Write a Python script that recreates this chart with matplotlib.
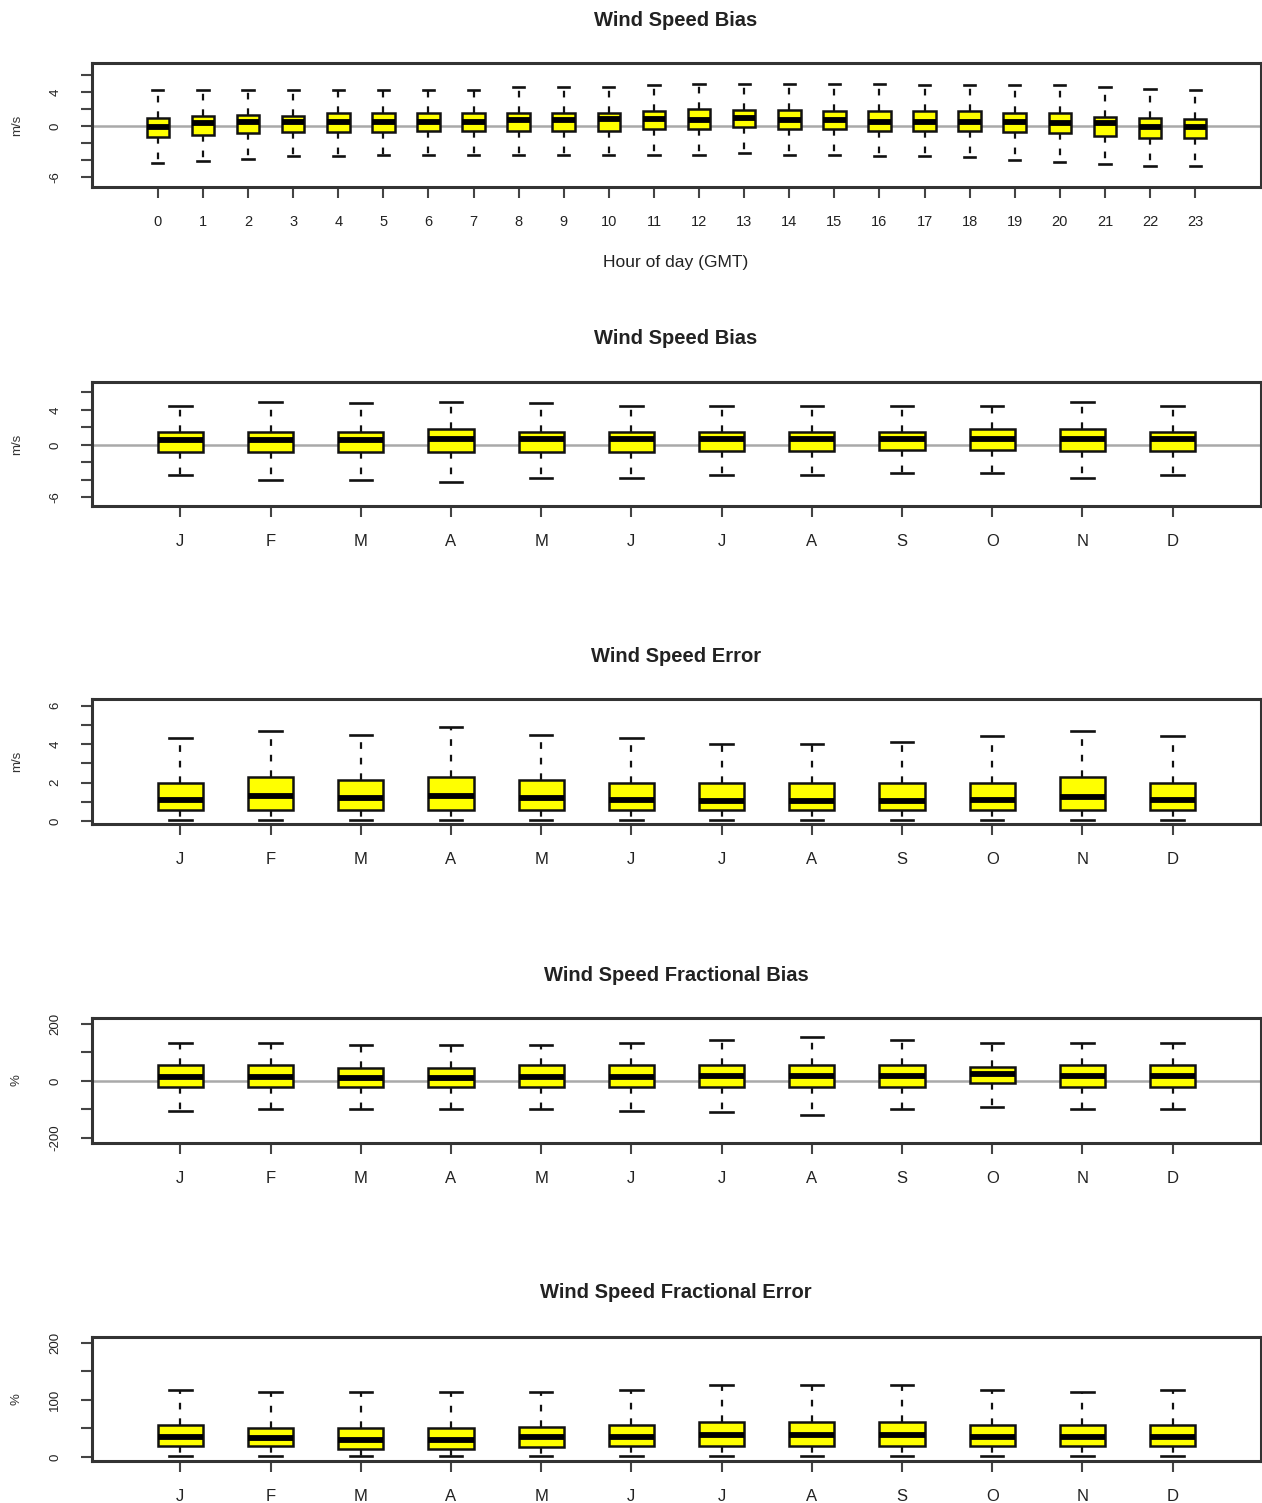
import matplotlib
matplotlib.use('Agg')
import matplotlib.pyplot as plt

plt.rcParams['font.family'] = ['Liberation Sans', 'DejaVu Sans']

# ---------------- data ----------------
hours = [str(h) for h in range(24)]
months = ['J', 'F', 'M', 'A', 'M', 'J', 'J', 'A', 'S', 'O', 'N', 'D']

# Panel 1: wind speed bias by hour (m/s)
p1_lo  = [-4.4, -4.1, -3.9, -3.6, -3.6, -3.4, -3.4, -3.4, -3.4, -3.4, -3.4, -3.4,
          -3.4, -3.2, -3.4, -3.4, -3.6, -3.6, -3.7, -4.0, -4.2, -4.5, -4.7, -4.7]
p1_q1  = [-1.3, -1.1, -0.8, -0.7, -0.7, -0.7, -0.6, -0.6, -0.6, -0.6, -0.6, -0.4,
          -0.4, -0.1, -0.4, -0.4, -0.6, -0.6, -0.6, -0.7, -0.8, -1.2, -1.4, -1.4]
p1_med = [-0.1, 0.3, 0.4, 0.5, 0.5, 0.5, 0.5, 0.5, 0.7, 0.7, 0.8, 0.8,
          0.7, 0.9, 0.7, 0.7, 0.5, 0.5, 0.5, 0.5, 0.3, 0.3, -0.1, -0.1]
p1_q3  = [0.9, 1.2, 1.3, 1.2, 1.5, 1.5, 1.5, 1.5, 1.5, 1.5, 1.5, 1.7,
          2.0, 1.9, 1.9, 1.7, 1.7, 1.7, 1.7, 1.5, 1.5, 1.1, 0.9, 0.8]
p1_hi  = [4.2, 4.2, 4.2, 4.2, 4.2, 4.2, 4.2, 4.2, 4.6, 4.6, 4.6, 4.8,
          4.9, 4.9, 4.9, 4.9, 4.9, 4.8, 4.8, 4.8, 4.8, 4.6, 4.3, 4.2]

# Panel 2: wind speed bias by month (m/s)
p2_lo  = [-3.5, -4.0, -4.0, -4.3, -3.8, -3.8, -3.5, -3.5, -3.2, -3.2, -3.8, -3.5]
p2_q1  = [-0.8, -0.8, -0.8, -0.8, -0.8, -0.8, -0.7, -0.7, -0.6, -0.6, -0.7, -0.7]
p2_med = [0.6, 0.6, 0.6, 0.7, 0.7, 0.7, 0.7, 0.7, 0.7, 0.7, 0.7, 0.7]
p2_q3  = [1.5, 1.5, 1.5, 1.8, 1.5, 1.5, 1.5, 1.5, 1.5, 1.8, 1.8, 1.5]
p2_hi  = [4.5, 4.9, 4.8, 4.9, 4.8, 4.5, 4.5, 4.5, 4.5, 4.5, 4.9, 4.5]

# Panel 3: wind speed error by month (m/s)
p3_lo  = [0.05] * 12
p3_q1  = [0.55, 0.55, 0.55, 0.55, 0.55, 0.55, 0.55, 0.55, 0.55, 0.55, 0.55, 0.55]
p3_med = [1.1, 1.3, 1.2, 1.3, 1.2, 1.1, 1.05, 1.05, 1.05, 1.1, 1.25, 1.1]
p3_q3  = [2.0, 2.3, 2.15, 2.3, 2.15, 2.0, 2.0, 2.0, 2.0, 2.0, 2.3, 2.0]
p3_hi  = [4.3, 4.7, 4.5, 4.9, 4.5, 4.3, 4.0, 4.0, 4.1, 4.4, 4.7, 4.4]

# Panel 4: fractional bias by month (%)
p4_lo  = [-105, -100, -100, -100, -100, -105, -108, -120, -100, -92, -100, -100]
p4_q1  = [-20, -20, -20, -20, -20, -20, -20, -20, -20, -8, -20, -20]
p4_med = [15, 15, 12, 12, 15, 15, 18, 18, 18, 25, 18, 18]
p4_q3  = [56, 56, 45, 45, 56, 56, 56, 56, 56, 50, 56, 56]
p4_hi  = [133, 133, 126, 126, 126, 133, 144, 154, 144, 133, 133, 133]

# Panel 5: fractional error by month (%)
p5_lo  = [2] * 12
p5_q1  = [19, 19, 14, 14, 18, 19, 19, 19, 19, 19, 19, 19]
p5_med = [35, 33, 30, 30, 35, 35, 38, 38, 38, 35, 35, 35]
p5_q3  = [56, 51, 51, 51, 53, 56, 61, 61, 61, 56, 56, 56]
p5_hi  = [117, 114, 114, 114, 114, 117, 126, 126, 126, 117, 114, 117]

# ---------------- layout ----------------
W, H = 1262, 1503
fig = plt.figure(figsize=(W / 100, H / 100), dpi=100)

AX_L, AX_R = 92, 1261


def make_stats(lo, q1, med, q3, hi):
    return [dict(whislo=a, q1=b, med=c, q3=d, whishi=e, fliers=[])
            for a, b, c, d, e in zip(lo, q1, med, q3, hi)]


def panel(top, bottom, title, title_y, data, labels, ylim, yticks, ylabels,
          ylab, zero_line, xfs, xlabel=None):
    ax = fig.add_axes([AX_L / W, 1 - bottom / H, (AX_R - AX_L) / W, (bottom - top) / H])
    n = len(labels)
    pos = list(range(1, n + 1))
    if zero_line:
        ax.axhline(0, color='#a9a9a9', lw=1.8, zorder=0.5)
    ax.bxp(make_stats(*data), positions=pos, widths=0.5, capwidths=0.25,
           patch_artist=True, showfliers=False, manage_ticks=False,
           boxprops=dict(facecolor='#ffff00', edgecolor='#111111', linewidth=1.8),
           medianprops=dict(color='black', linewidth=4.2, solid_capstyle='butt'),
           whiskerprops=dict(color='#111111', linestyle=(0, (3, 4)), linewidth=1.6),
           capprops=dict(color='#111111', linewidth=1.9))
    ax.set_xlim(0.5 - 0.04 * n, n + 0.5 + 0.04 * n)
    ax.set_ylim(*ylim)
    ax.set_xticks(pos)
    ax.set_xticklabels(labels, fontsize=xfs, color='#222222')
    ax.set_yticks(yticks)
    ax.set_yticklabels(ylabels, fontsize=9.5, color='#222222', rotation=90, va='center')
    ax.tick_params(axis='x', length=8, width=1.5, pad=12, colors='#444444', labelcolor='#222222')
    ax.tick_params(axis='y', length=8, width=1.5, pad=14, colors='#444444', labelcolor='#222222')
    for s in ax.spines.values():
        s.set_color('#333333')
        s.set_linewidth(2.2)
    fig.text(676 / W, 1 - title_y / H, title, ha='center', va='center',
             fontsize=14.5, fontweight='bold', color='#222222')
    fig.text(17 / W, 1 - (top + bottom) / 2 / H, ylab, ha='center', va='center',
             rotation=90, fontsize=9.5, color='#333333')
    if xlabel:
        fig.text(676 / W, 1 - 262 / H, xlabel, ha='center', va='center',
                 fontsize=12.5, color='#222222')
    return ax


panel(63, 187, 'Wind Speed Bias', 20,
      (p1_lo, p1_q1, p1_med, p1_q3, p1_hi), hours, (-7.2, 7.4),
      [-6, -4, -2, 0, 2, 4, 6], ['-6', '', '', '0', '', '4', ''],
      'm/s', True, 10.5, xlabel='Hour of day (GMT)')

panel(382, 506, 'Wind Speed Bias', 338,
      (p2_lo, p2_q1, p2_med, p2_q3, p2_hi), months, (-7.0, 7.2),
      [-6, -4, -2, 0, 2, 4, 6], ['-6', '', '', '0', '', '4', ''],
      'm/s', True, 12)

panel(699, 824, 'Wind Speed Error', 657,
      (p3_lo, p3_q1, p3_med, p3_q3, p3_hi), months, (-0.16, 6.35),
      [0, 1, 2, 3, 4, 5, 6], ['0', '', '2', '', '4', '', '6'],
      'm/s', False, 12)

panel(1018, 1143, 'Wind Speed Fractional Bias', 975,
      (p4_lo, p4_q1, p4_med, p4_q3, p4_hi), months, (-218, 221),
      [-200, -100, 0, 100, 200], ['-200', '', '0', '', '200'],
      '%', True, 12)

panel(1337, 1461, 'Wind Speed Fractional Error', 1293,
      (p5_lo, p5_q1, p5_med, p5_q3, p5_hi), months, (-7, 210),
      [0, 50, 100, 150, 200], ['0', '', '100', '', '200'],
      '%', False, 12)

fig.savefig('out.png', dpi=100)
